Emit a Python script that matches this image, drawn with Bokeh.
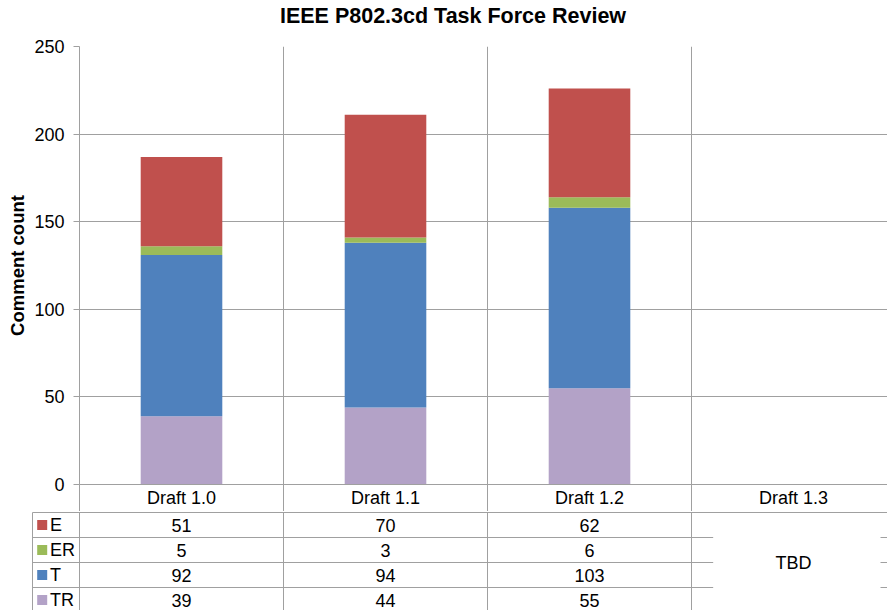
from bokeh.plotting import figure
from bokeh.models import ColumnDataSource, FixedTicker, Range1d, Span
from bokeh.layouts import column
from bokeh.embed import file_html
from bokeh.resources import INLINE
from bokeh.core.properties import value

# ---------------- data ----------------
title_text = "IEEE P802.3cd Task Force Review"
categories = ["Draft 1.0", "Draft 1.1", "Draft 1.2", "Draft 1.3"]
series = ["E", "ER", "T", "TR"]
E = [51, 70, 62]
ER = [5, 3, 6]
T = [92, 94, 103]
TR = [39, 44, 55]
y_ticks = [0, 50, 100, 150, 200, 250]
pending_text = "TBD"
colors = {"E": "#C0504D", "ER": "#9BBB59", "T": "#4F81BD", "TR": "#B3A2C7"}

# ---------------- layout constants (px) ----------------
FONT = "Liberation Sans"
GRID = "#A0A0A0"
W = 887
TITLE_H = 30
LEFT = 79            # frame left edge
TOP = 16             # space above frame inside chart figure
FRAME_H = 438
HEADER_H = 27        # category header row (x axis)
CHART_H = TOP + FRAME_H + HEADER_H
TABLE_H = 610 - TITLE_H - CHART_H
CAT_PX = 204.0
ROW_PX = 25.0
x_end = (W - LEFT) / CAT_PX
n = len(categories)

def base(fig):
    fig.outline_line_color = None
    fig.background_fill_color = "white"
    fig.border_fill_color = "white"
    fig.frame_align = False

# ---------------- title ----------------
p0 = figure(width=W, height=TITLE_H, output_backend="svg", toolbar_location=None,
            x_range=Range1d(0, W), y_range=Range1d(TITLE_H, 0),
            x_axis_location=None, y_axis_location=None,
            min_border_left=0, min_border_right=0, min_border_top=0, min_border_bottom=0)
base(p0)
p0.grid.visible = False
p0.text(x=[452.5], y=[15.5], text=[title_text], text_font=value(FONT),
        text_font_size="21.5px", text_font_style="bold", text_color="black",
        text_align="center", text_baseline="middle")

# ---------------- chart ----------------
p1 = figure(width=W, height=CHART_H, output_backend="svg", toolbar_location=None,
            x_range=Range1d(0, x_end), y_range=Range1d(0, 250),
            min_border_left=LEFT, min_border_right=0, min_border_top=TOP,
            min_border_bottom=HEADER_H)
base(p1)
p1.xgrid.visible = False

yax = p1.yaxis[0]
yax.ticker = FixedTicker(ticks=y_ticks)
yax.axis_label = "Comment count"
yax.axis_label_text_font = FONT
yax.axis_label_text_font_size = "18.5px"
yax.axis_label_text_font_style = "bold"
yax.axis_label_text_color = "black"
yax.axis_label_standoff = 3
yax.major_label_text_font = FONT
yax.major_label_text_font_size = "18px"
yax.major_label_text_color = "black"
yax.major_label_standoff = 9
yax.major_tick_out = 6
yax.major_tick_in = 0
yax.minor_tick_out = 0
yax.minor_tick_in = 0
yax.axis_line_color = GRID
yax.major_tick_line_color = GRID

centers = [i + 0.5 for i in range(n)]
xax = p1.xaxis[0]
xax.ticker = FixedTicker(ticks=centers, minor_ticks=list(range(n)))
xax.major_label_overrides = {c: lab for c, lab in zip(centers, categories)}
xax.major_label_text_font = FONT
xax.major_label_text_font_size = "18px"
xax.major_label_text_color = "black"
xax.major_label_standoff = 3 - HEADER_H
xax.major_tick_out = 0
xax.major_tick_in = 0
xax.minor_tick_out = HEADER_H
xax.minor_tick_in = 0
xax.minor_tick_line_color = GRID
xax.axis_line_color = GRID

p1.ygrid.ticker = FixedTicker(ticks=y_ticks)
p1.ygrid.grid_line_color = GRID

for i in range(1, n):
    p1.add_layout(Span(location=i, dimension="height", line_color=GRID, line_width=1))

src = ColumnDataSource(dict(x=[i + 0.5 for i in range(len(E))], E=E, ER=ER, T=T, TR=TR))
stack_order = ["TR", "T", "ER", "E"]
p1.vbar_stack(stack_order, x="x", width=0.4, source=src,
              color=[colors[s] for s in stack_order], line_color=None)

# ---------------- data table ----------------
table_left = (32 - LEFT) / CAT_PX
top_pad = 0.04
row_bottom = TABLE_H / ROW_PX - top_pad
p2 = figure(width=W, height=TABLE_H, output_backend="svg", toolbar_location=None,
            x_range=Range1d(-LEFT / CAT_PX, x_end),
            y_range=Range1d(row_bottom, -top_pad),
            x_axis_location=None, y_axis_location=None,
            min_border_left=0, min_border_right=0, min_border_top=0, min_border_bottom=0)
base(p2)
p2.grid.visible = False

line = dict(line_color=GRID, line_width=1)
xs_v = [table_left] + list(range(n))
p2.segment(x0=xs_v, y0=[0] * len(xs_v), x1=xs_v, y1=[row_bottom + 1] * len(xs_v), **line)
p2.segment(x0=[table_left], y0=[0], x1=[x_end], y1=[0], **line)
gap_a = (712.7 - LEFT) / CAT_PX
gap_b = (880 - LEFT) / CAT_PX
rows = list(range(1, len(series)))
p2.segment(x0=[table_left] * len(rows), y0=rows, x1=[gap_a] * len(rows), y1=rows, **line)
p2.segment(x0=[gap_b] * len(rows), y0=rows, x1=[x_end] * len(rows), y1=rows, **line)

txt = dict(text_font=value(FONT), text_font_size="18px", text_color="black",
           text_baseline="middle")
vals = {"E": E, "ER": ER, "T": T, "TR": TR}
for r, s in enumerate(series):
    v = vals[s]
    p2.text(x=[i + 0.5 for i in range(len(v))], y=[r + 0.5] * len(v),
            text=[str(a) for a in v], text_align="center", **txt)
p2.text(x=[len(E) + 0.5], y=[len(series) / 2], text=[pending_text], text_align="center", **txt)
ys = [r + 0.5 for r in range(len(series))]
p2.scatter(x=[(41.7 - LEFT) / CAT_PX] * len(series), y=ys,
           marker="square", size=10, color=[colors[s] for s in series], line_color=None)
p2.text(x=[(49.5 - LEFT) / CAT_PX] * len(series), y=ys,
        text=series, text_align="left", **txt)

layout = column(p0, p1, p2, spacing=0)
open("out.html", "w").write(file_html(layout, INLINE))
